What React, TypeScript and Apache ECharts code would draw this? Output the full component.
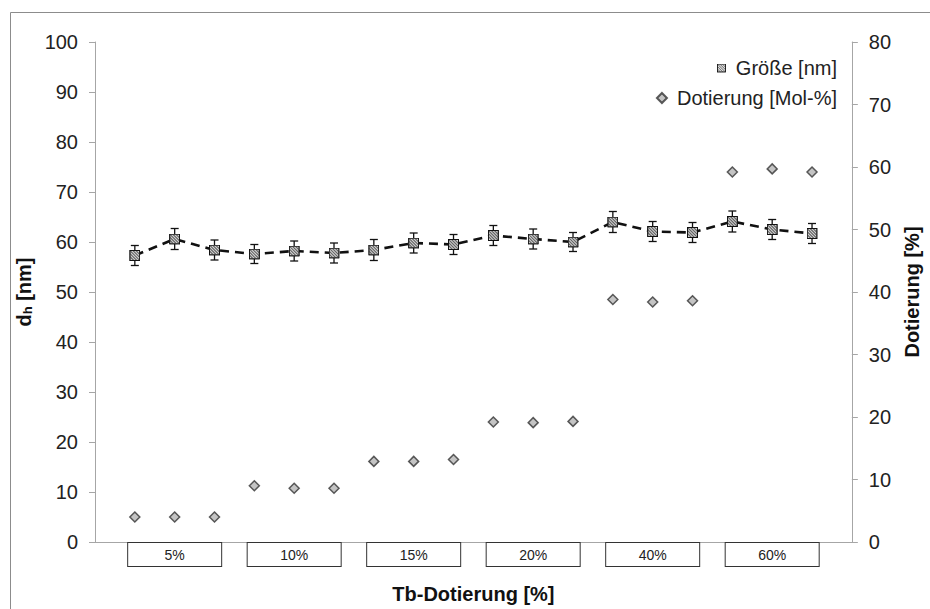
import React, { useEffect, useRef } from "react";
import * as echarts from "echarts";

// Tb doping groups (three samples each)
const groups = ["5%", "10%", "15%", "20%", "40%", "60%"];
// hydrodynamic diameter d_h [nm]
const sizeNm = [57.3, 60.6, 58.4, 57.6, 58.2, 57.8, 58.4, 59.8, 59.5, 61.3, 60.6, 60.0, 64.0, 62.1, 61.9, 64.1, 62.5, 61.7];
// standard deviation of d_h [nm]
const sizeErr = [2.0, 2.1, 2.0, 1.9, 2.0, 2.0, 2.1, 2.0, 2.0, 2.0, 2.0, 1.9, 2.1, 2.0, 2.0, 2.1, 2.0, 2.0];
// measured doping [mol-%]
const doping = [4.0, 4.0, 4.0, 9.0, 8.6, 8.6, 12.9, 12.9, 13.2, 19.2, 19.1, 19.3, 38.8, 38.4, 38.6, 59.2, 59.7, 59.2];

const leftTicks = { min: 0, max: 100, interval: 10 };
const rightTicks = { min: 0, max: 80, interval: 10 };

const FONT = "'Liberation Sans', Arial, sans-serif";
const SIZE_NAME = "Größe [nm]";
const DOP_NAME = "Dotierung [Mol-%]";

// hatched square marker
const hatchSvg =
  "<svg xmlns='http://www.w3.org/2000/svg' width='22' height='22' viewBox='0 0 22 22'>" +
  "<rect x='1' y='1' width='20' height='20' fill='#dcdcdc' stroke='#111' stroke-width='2'/>" +
  "<path d='M1 7 L15 21 M1 13 L9 21 M1 1 L21 21 M7 1 L21 15 M13 1 L21 9' stroke='#666' stroke-width='2.2'/>" +
  "<rect x='1' y='1' width='20' height='20' fill='none' stroke='#111' stroke-width='2'/>" +
  "</svg>";
const hatchSymbol = "image://data:image/svg+xml;charset=utf-8," + encodeURIComponent(hatchSvg);

export default function App() {
  const ref = useRef<HTMLDivElement>(null);

  useEffect(() => {
    if (!ref.current) return;
    const chart = echarts.init(ref.current, undefined, { renderer: "svg" });

    const sizeData = sizeNm.map((v, i) => [i + 1, v]);
    const errData = sizeNm.map((v, i) => [i + 1, v - sizeErr[i], v + sizeErr[i]]);
    const dopData = doping.map((v, i) => [i + 1, v]);

    const axisLineStyle = { color: "#a6a6a6", width: 1 };

    chart.setOption({
      animation: false,
      backgroundColor: "#fff",
      textStyle: { fontFamily: FONT },
      graphic: [
        {
          type: "rect",
          left: 8,
          top: 10,
          shape: { width: 940, height: 620 },
          style: { fill: "none", stroke: "#8c8c8c", lineWidth: 1 },
          silent: true,
          z: -10,
        },
      ],
      legend: [
        {
          data: [{ name: SIZE_NAME, icon: hatchSymbol }],
          right: 93,
          top: 58,
          padding: 0,
          itemWidth: 9,
          itemHeight: 9,
          itemGap: 0,
          textStyle: { fontSize: 20, color: "#222", fontFamily: FONT, padding: [0, 0, 0, 5] },
        },
        {
          data: [{ name: DOP_NAME, icon: "diamond" }],
          right: 93,
          top: 88,
          padding: 0,
          itemWidth: 10,
          itemHeight: 10,
          itemGap: 0,
          textStyle: { fontSize: 20, color: "#222", fontFamily: FONT, padding: [0, 0, 0, 5] },
        },
      ],
      grid: { left: 95, right: 78, top: 42, bottom: 62, containLabel: false },
      xAxis: {
        type: "value",
        min: 0,
        max: 19,
        interval: 1,
        name: "Tb-Dotierung [%]",
        nameLocation: "middle",
        nameGap: 42,
        nameTextStyle: { fontSize: 20, fontWeight: "bold", color: "#111", fontFamily: FONT },
        axisLine: { lineStyle: axisLineStyle },
        axisTick: { show: false },
        splitLine: { show: false },
        axisLabel: {
          margin: 1,
          showMinLabel: true,
          showMaxLabel: true,
          formatter: (v: number) => {
            const k = Math.round(v) - 2;
            if (k >= 0 && k % 3 === 0 && k / 3 < groups.length) return `{b|${groups[k / 3]}}`;
            return "";
          },
          rich: {
            b: {
              width: 93,
              height: 23,
              lineHeight: 23,
              align: "center",
              fontSize: 14,
              color: "#222",
              fontFamily: FONT,
              borderColor: "#333",
              borderWidth: 1,
              backgroundColor: "#fff",
            },
          },
        },
      },
      yAxis: [
        {
          type: "value",
          ...leftTicks,
          name: "{m|d}{s|h}{m| [nm]}",
          nameLocation: "middle",
          nameRotate: 90,
          nameGap: 52,
          nameTextStyle: {
            rich: {
              m: { fontSize: 20, fontWeight: "bold", color: "#111", fontFamily: FONT },
              s: { fontSize: 13, fontWeight: "bold", color: "#111", fontFamily: FONT, verticalAlign: "bottom", padding: [6, 0, 0, 0] },
            },
          },
          axisLine: { show: true, lineStyle: axisLineStyle },
          axisTick: { show: true, length: 6, lineStyle: axisLineStyle },
          splitLine: { show: false },
          axisLabel: { fontSize: 20, color: "#222", margin: 17, fontFamily: FONT },
        },
        {
          type: "value",
          ...rightTicks,
          position: "right",
          name: "Dotierung [%]",
          nameLocation: "middle",
          nameRotate: 90,
          nameGap: 50,
          nameTextStyle: { fontSize: 20, fontWeight: "bold", color: "#111", fontFamily: FONT },
          axisLine: { show: true, lineStyle: axisLineStyle },
          axisTick: { show: true, length: 6, lineStyle: axisLineStyle },
          splitLine: { show: false },
          axisLabel: { fontSize: 20, color: "#222", margin: 17, fontFamily: FONT },
        },
      ],
      series: [
        {
          name: SIZE_NAME + " err",
          type: "custom",
          yAxisIndex: 0,
          z: 1,
          silent: true,
          data: errData,
          renderItem: (_p: any, api: any) => {
            const x = api.value(0);
            const lo = api.coord([x, api.value(1)]);
            const hi = api.coord([x, api.value(2)]);
            const w = 4;
            const style = { stroke: "#111", lineWidth: 1.3 };
            return {
              type: "group",
              children: [
                { type: "line", shape: { x1: lo[0], y1: lo[1], x2: hi[0], y2: hi[1] }, style },
                { type: "line", shape: { x1: lo[0] - w, y1: lo[1], x2: lo[0] + w, y2: lo[1] }, style },
                { type: "line", shape: { x1: hi[0] - w, y1: hi[1], x2: hi[0] + w, y2: hi[1] }, style },
              ],
            };
          },
        },
        {
          name: SIZE_NAME,
          type: "line",
          yAxisIndex: 0,
          z: 3,
          data: sizeData,
          symbol: hatchSymbol,
          symbolSize: 11,
          lineStyle: { color: "#111", width: 2.6, type: [9, 6] },
          itemStyle: { color: "#c4c4c4", borderColor: "#111", borderWidth: 1 },
        },
        {
          name: DOP_NAME,
          type: "scatter",
          yAxisIndex: 1,
          z: 3,
          data: dopData,
          symbol: "diamond",
          symbolSize: 10,
          itemStyle: { color: "#b5b5b5", borderColor: "#333", borderWidth: 1.5 },
        },
      ],
    });

    return () => chart.dispose();
  }, []);

  return (
    <div
      ref={ref}
      style={{ position: "fixed", left: 0, top: 0, width: 930, height: 609, background: "#fff" }}
    />
  );
}
